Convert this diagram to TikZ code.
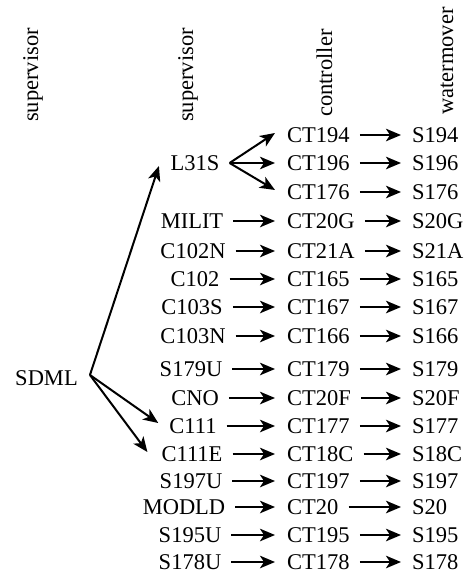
\documentclass[tikz,border=0pt]{standalone}
\usepackage{fontspec}
\setmainfont{Liberation Serif}
\usetikzlibrary{arrows.meta}
\begin{document}
\begin{tikzpicture}[x=1pt,y=-1pt,
  lbl/.style={inner sep=0pt, font=\fontsize{22.5}{27}\selectfont},
  hdr/.style={lbl, rotate=90, anchor=base west},
  cmid/.style={lbl, anchor=center},
  cleft/.style={lbl, anchor=west},
  arr/.style={line width=2pt, -{Stealth[length=15pt,width=12.5pt,inset=4pt]}},
  harrA/.style={arr, shorten <=10pt, shorten >=12pt},
  harrB/.style={arr, shorten <=10pt, shorten >=11pt}]
\useasboundingbox (0,0) rectangle (467,583);
% headers
\node[hdr] (hd1) at (38,122) {supervisor};
\node[hdr] (hd2) at (193,122) {supervisor};
\node[hdr] (hd3) at (332,117) {controller};
\node[hdr] (hd4) at (453,115) {watermover};
% top block
\node[cmid] (L31S) at (195,163) {L31S};
\node[cleft] (CT194) at (287,135) {CT194};
\node[cleft] (S194) at (412,135) {S194};
\node[cleft] (CT196) at (287,163) {CT196};
\node[cleft] (S196) at (412,163) {S196};
\node[cleft] (CT176) at (287,192) {CT176};
\node[cleft] (S176) at (412,192) {S176};
\draw[harrB] (CT194.east) -- (S194.west);
\draw[harrB] (CT196.east) -- (S196.west);
\draw[harrB] (CT176.east) -- (S176.west);
\coordinate (l31out) at ([xshift=10pt]L31S.east);
\draw[arr] (l31out) -- ([xshift=-12pt,yshift=2pt]CT194.west);
\draw[arr] (l31out) -- ([xshift=-12pt]CT196.west);
\draw[arr] (l31out) -- ([xshift=-12pt,yshift=2pt]CT176.west);
% rows
\foreach \y/\x/\a/\b/\c in {221/192/MILIT/CT20G/S20G, 251/193/C102N/CT21A/S21A,
  279/195/C102/CT165/S165, 307/192/C103S/CT167/S167, 336/193/C103N/CT166/S166,
  369/191/S179U/CT179/S179, 398/195/CNO/CT20F/S20F, 426/193/C111/CT177/S177,
  454/192/C111E/CT18C/S18C, 481/191/S197U/CT197/S197, 507/184/MODLD/CT20/S20,
  535/190/S195U/CT195/S195, 562/190/S178U/CT178/S178} {
  \node[cmid] (\a) at (\x,\y) {\a};
  \node[cleft] (\b) at (287,\y) {\b};
  \node[cleft] (\c) at (412,\y) {\c};
  \draw[harrA] (\a.east) -- (\b.west);
  \draw[harrB] (\b.east) -- (\c.west);
}
% SDML
\node[lbl] (SDML) at (46.5,378) {SDML};
\coordinate (sdmlout) at ([xshift=12pt,yshift=3pt]SDML.east);
\draw[arr] (sdmlout) -- ([xshift=-11.5pt,yshift=-3pt]L31S.west);
\draw[arr] (sdmlout) -- ([xshift=-11pt,yshift=3pt]C111.west);
\draw[arr] (sdmlout) -- ([xshift=-14pt,yshift=2pt]C111E.west);
\end{tikzpicture}
\end{document}
